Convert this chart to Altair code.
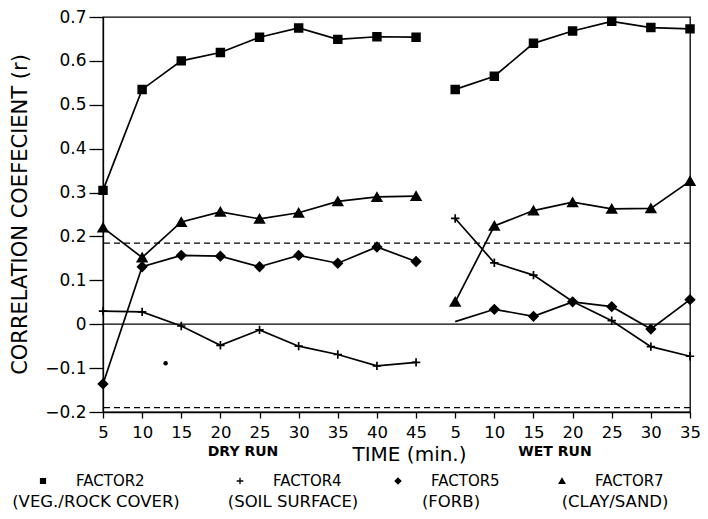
import altair as alt
import pandas as pd

# ---------------- data ----------------
dry_times = [5, 10, 15, 20, 25, 30, 35, 40, 45]
wet_times = [5, 10, 15, 20, 25, 30, 35]

factors = ["FACTOR2", "FACTOR4", "FACTOR5", "FACTOR7"]
subtitles = ["(VEG./ROCK COVER)", "(SOIL SURFACE)", "(FORB)", "(CLAY/SAND)"]

factor2_dry = [0.305, 0.535, 0.600, 0.619, 0.654, 0.675, 0.649, 0.655, 0.654]
factor2_wet = [0.535, 0.565, 0.640, 0.668, 0.690, 0.676, 0.673]
factor4_dry = [0.030, 0.028, -0.004, -0.048, -0.013, -0.050, -0.069, -0.095, -0.087]
factor4_wet = [0.241, 0.140, 0.112, 0.052, 0.008, -0.051, -0.073]
factor5_dry = [-0.136, 0.131, 0.157, 0.155, 0.131, 0.157, 0.139, 0.176, 0.143]
factor5_wet = [0.006, 0.034, 0.018, 0.051, 0.040, -0.011, 0.056]
factor7_dry = [0.220, 0.152, 0.233, 0.256, 0.240, 0.254, 0.280, 0.290, 0.292]
factor7_wet = [0.051, 0.224, 0.259, 0.278, 0.263, 0.264, 0.326]

significance_levels = [0.185, -0.19]
zero_level = [0.0]
stray_index = [1.6]
stray_r = [-0.089]
y_ticks = [-0.2, -0.1, 0.0, 0.1, 0.2, 0.3, 0.4, 0.5, 0.6, 0.7]
run_labels = ["DRY RUN", "WET RUN"]
x_title = "TIME (min.)"
y_title = "CORRELATION COEFECIENT (r)"

# ---------------- build table ----------------
series = {
    "FACTOR2": (factor2_dry, factor2_wet),
    "FACTOR4": (factor4_dry, factor4_wet),
    "FACTOR5": (factor5_dry, factor5_wet),
    "FACTOR7": (factor7_dry, factor7_wet),
}
rows = []
for f, (dvals, wvals) in series.items():
    for i, (t, v) in enumerate(zip(dry_times, dvals)):
        rows.append({"factor": f, "run": "DRY", "time": t, "idx": i, "r": v})
    for j, (t, v) in enumerate(zip(wet_times, wvals)):
        rows.append({"factor": f, "run": "WET", "time": t,
                     "idx": len(dry_times) + j, "r": v})
df = pd.DataFrame(rows)
df["key"] = df["factor"] + "_" + df["run"]

tick_labels = [str(t) for t in dry_times + wet_times]
label_expr = "[" + ",".join("'%s'" % s for s in tick_labels) + "][round(datum.value)]"
n_pos = len(tick_labels)

FONT = "DejaVu Sans"
PLUS = "M-1,0H1M0,-1V1"
shapes = ["square", PLUS, "diamond", "triangle-up"]
sizes = [60, 90, 95, 85]

x_scale = alt.Scale(domain=[0, n_pos - 1], nice=False, zero=False)
y_scale = alt.Scale(domain=[-0.2, 0.7], nice=False, zero=False)
x_axis = alt.Axis(
    values=list(range(n_pos)), tickCount=n_pos, labelExpr=label_expr, title=x_title,
    titleX=306, titleY=42, titleBaseline="middle", titleAlign="center",
    titleFontSize=20, tickSize=6, labelPadding=6, labelFontSize=16.5,
    labelOverlap=False, labelFlush=False, grid=False,
)
y_axis = alt.Axis(
    values=y_ticks, format=".1~f", title=y_title,
    titleX=-83, titleY=197, titleAngle=-90, titleBaseline="middle",
    titleAlign="center", titleFontSize=21, tickSize=14, labelPadding=3,
    labelFontSize=17, labelOverlap=False, labelFlush=False, grid=False,
)


def X():
    return alt.X("idx:Q", scale=x_scale, axis=x_axis)


def Y():
    return alt.Y("r:Q", scale=y_scale, axis=y_axis)


lines = alt.Chart(df).mark_line(color="black", strokeWidth=1.7).encode(
    x=X(), y=Y(), detail="key:N"
)

points = (
    alt.Chart(df)
    .transform_filter("!(datum.factor == 'FACTOR5' && datum.run == 'WET' && datum.time == 5)")
    .mark_point(filled=True, fill="black", stroke="black", strokeWidth=1.7, opacity=1)
    .encode(
        x=X(),
        y=Y(),
        shape=alt.Shape("factor:N", scale=alt.Scale(domain=factors, range=shapes), legend=None),
        size=alt.Size("factor:N", scale=alt.Scale(domain=factors, range=sizes), legend=None),
    )
)

sig = alt.Chart(pd.DataFrame({"r": significance_levels})).mark_rule(
    color="black", strokeWidth=1.3, strokeDash=[6, 4]
).encode(y=Y())

zero = alt.Chart(pd.DataFrame({"r": zero_level})).mark_rule(
    color="black", strokeWidth=1.3
).encode(y=Y())

stray = alt.Chart(pd.DataFrame({"idx": stray_index, "r": stray_r})).mark_point(
    shape="circle", filled=True, size=20, color="black", opacity=1
).encode(x=X(), y=Y())

layers = [lines, points, sig, zero, stray]

# run annotations
run_pos = [140, 452]
for lab, px in zip(run_labels, run_pos):
    layers.append(
        alt.Chart(pd.DataFrame({"t": [lab]})).mark_text(
            font=FONT, fontSize=14, fontWeight="bold", color="black",
            align="center", baseline="middle",
        ).encode(text="t:N", x=alt.value(px), y=alt.value(435))
    )

# legend
leg_centers = [-7, 190, 348, 512]
leg_sizes = [24, 44, 32, 32]
for f, sub, cx, shp, sz in zip(factors, subtitles, leg_centers, shapes, leg_sizes):
    d = pd.DataFrame({"f": [f], "s": [sub]})
    layers.append(
        alt.Chart(d).mark_point(shape=shp, size=sz, filled=True, fill="black",
                                stroke="black", strokeWidth=1.3, opacity=1)
        .encode(x=alt.value(cx - 53), y=alt.value(464))
    )
    layers.append(
        alt.Chart(d).mark_text(font=FONT, fontSize=15, color="black",
                               align="left", baseline="middle")
        .encode(text="f:N", x=alt.value(cx - 20), y=alt.value(464))
    )
    layers.append(
        alt.Chart(d).mark_text(font=FONT, fontSize=16.5, color="black",
                               align="center", baseline="middle")
        .encode(text="s:N", x=alt.value(cx), y=alt.value(485))
    )

chart = (
    alt.layer(*layers)
    .properties(
        width=587, height=395, autosize="none",
        padding={"left": 95, "top": 9, "right": 10, "bottom": 99},
    )
    .configure_view(stroke="black", strokeWidth=1.3)
    .configure_axis(
        domainColor="black", domainWidth=1.3, tickColor="black", tickWidth=1.3,
        labelColor="black", titleColor="black", labelFont=FONT, titleFont=FONT,
        titleFontWeight="normal",
    )
    .configure_text(font=FONT)
)

chart.save("out.html", embed_options={"renderer": "svg", "actions": False})
